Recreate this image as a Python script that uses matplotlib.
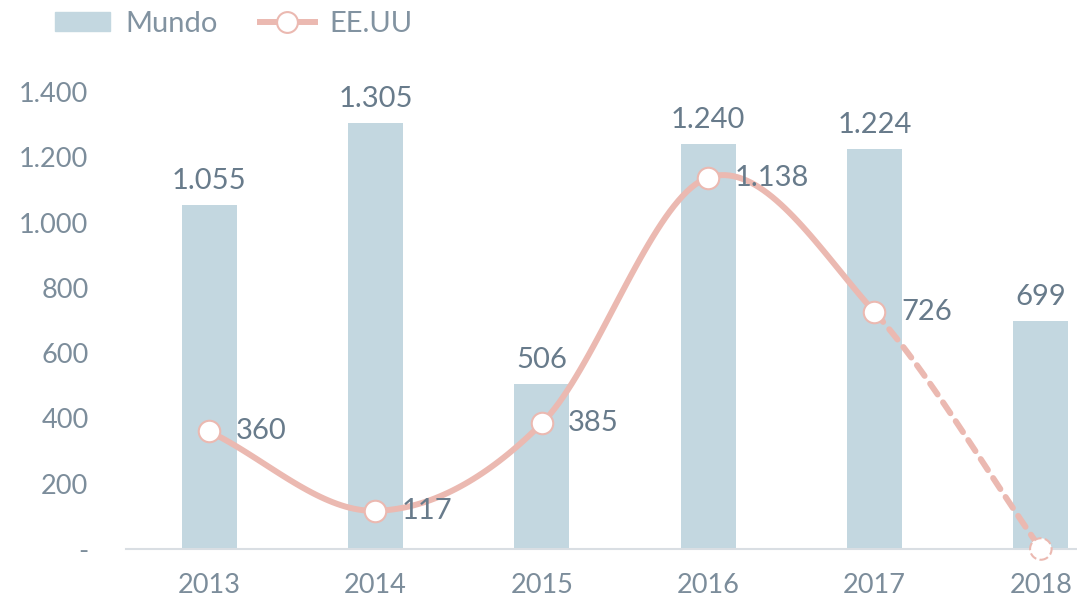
import numpy as np
import matplotlib.pyplot as plt
from matplotlib.lines import Line2D
from matplotlib.patches import Patch

years = ['2013', '2014', '2015', '2016', '2017', '2018']
mundo = [1055, 1305, 506, 1240, 1224, 699]
eeuu = [360, 117, 385, 1138, 726, 0]

bar_color = '#c3d7e0'
line_color = '#ebb9b1'
text_color = '#7c8d9b'
label_color = '#687b8b'

plt.rcParams['font.family'] = ['Lato', 'DejaVu Sans']

def fmt(v):
    return '-' if v == 0 else f'{v:,}'.replace(',', '.')

def smooth(x, y, n=40):
    # Catmull-Rom through the points, like Excel's smoothed line
    x = np.asarray(x, float)
    y = np.asarray(y, float)
    px = np.concatenate([[2 * x[0] - x[1]], x, [2 * x[-1] - x[-2]]])
    py = np.concatenate([[2 * y[0] - y[1]], y, [2 * y[-1] - y[-2]]])
    segs = []
    for i in range(1, len(px) - 2):
        t = np.linspace(0, 1, n)
        def cr(p):
            p0, p1, p2, p3 = p[i - 1], p[i], p[i + 1], p[i + 2]
            return 0.5 * ((2 * p1) + (-p0 + p2) * t +
                          (2 * p0 - 5 * p1 + 4 * p2 - p3) * t ** 2 +
                          (-p0 + 3 * p1 - 3 * p2 + p3) * t ** 3)
        segs.append((cr(px), cr(py)))
    return segs

fig = plt.figure(figsize=(10.77, 6.04), dpi=100)
ax = fig.add_axes([126 / 1077, 1 - 549 / 604, 998 / 1077, 457 / 604])

x = np.arange(len(years))
ax.bar(x, mundo, width=0.33, color=bar_color, zorder=1)
for xi, v in zip(x, mundo):
    ax.annotate(fmt(v), (xi, v), xytext=(0, 8), textcoords='offset points',
                ha='center', va='bottom', fontsize=21, color=label_color,
                annotation_clip=False)

# scale y so the spline is computed in roughly pixel-like space
scale = 166.4 / (457 / 1400)
segs = smooth(x * scale, eeuu)
for i, (sx, sy) in enumerate(segs):
    ls = '--' if i == len(segs) - 1 else '-'
    ax.plot(sx / scale, sy, color=line_color, lw=4.3, ls=ls,
            dashes=(2.2, 1.6) if ls == '--' else (None, None),
            solid_capstyle='round', dash_capstyle='round', zorder=2, clip_on=False)

ax.scatter(x[:-1], eeuu[:-1], s=240, facecolor='white', edgecolor=line_color,
           linewidth=1.5, zorder=3, clip_on=False)
ax.scatter(x[-1:], eeuu[-1:], s=240, facecolor='white', edgecolor=line_color,
           linewidth=1.5, linestyle='--', zorder=3, clip_on=False)
for xi, v in zip(x[:-1], eeuu[:-1]):
    ax.annotate(fmt(v), (xi, v), xytext=(19, 0), textcoords='offset points',
                ha='left', va='center', fontsize=21, color=label_color)

ax.set_xlim(-0.5, 5.5)
ax.set_ylim(0, 1400)
ax.set_yticks(range(0, 1401, 200))
ax.set_yticklabels([fmt(v) for v in range(0, 1401, 200)])
ax.set_xticks(x)
ax.set_xticklabels(years)
ax.tick_params(axis='both', length=0, labelsize=19.5, labelcolor=text_color)
ax.tick_params(axis='y', pad=27)
ax.tick_params(axis='x', pad=17)
for s in ['top', 'right', 'left']:
    ax.spines[s].set_visible(False)
ax.spines['bottom'].set_color('#d9dee3')
ax.spines['bottom'].set_linewidth(1.5)

handles = [Patch(color=bar_color),
           Line2D([], [], color=line_color, lw=4.3, marker='o', markersize=15,
                  markerfacecolor='white', markeredgecolor=line_color,
                  markeredgewidth=1.5)]
fig.legend(handles, ['Mundo', 'EE.UU'], loc='center left',
           bbox_to_anchor=(55 / 1077, 1 - 24 / 604), ncol=2, frameon=False,
           fontsize=21, labelcolor='#8293a1', handlelength=1.9,
           handleheight=0.65, columnspacing=1.45, handletextpad=0.5,
           borderpad=0, borderaxespad=0)

fig.savefig('out.png', dpi=100)
